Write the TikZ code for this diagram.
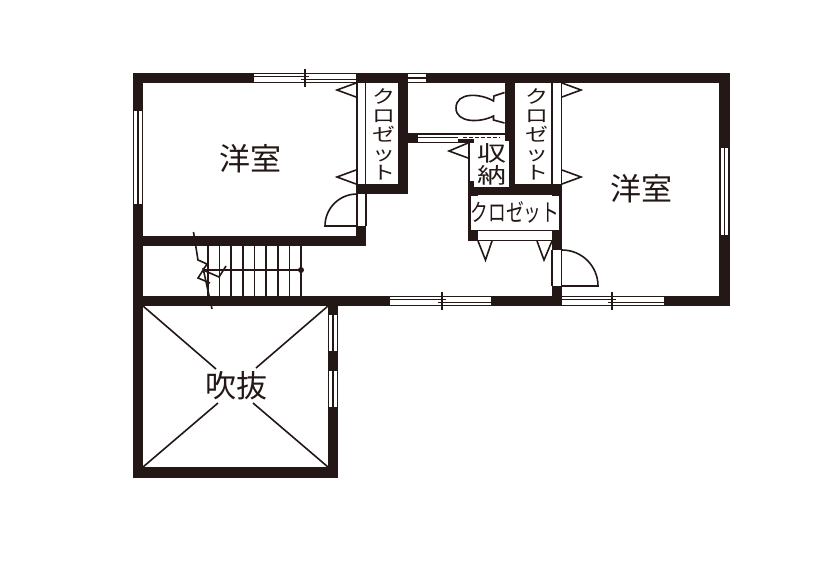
\documentclass[tikz,border=0pt]{standalone}
\usepackage{fontspec}
\usepackage{graphicx}
\newfontfamily\jp{Noto Sans CJK JP}
\definecolor{ink}{HTML}{231815}
\newcommand{\vch}[1]{\scalebox{1}[0.8]{#1}}
\tikzset{
  wall/.style={fill=ink,draw=none},
  hole/.style={fill=white,draw=none},
  thin/.style={draw=ink,line width=1.1pt},
  mid/.style={draw=ink,line width=1.6pt},
  label/.style={text=ink,inner sep=0pt,outer sep=0pt},
  room/.style={label,font=\jp\fontsize{31}{31}\selectfont},
  vstack/.style={label,align=center,font=\jp\fontsize{23}{19}\selectfont},
  store/.style={label,font=\jp\fontsize{29}{29}\selectfont},
}
\begin{document}
\begin{tikzpicture}[x=1pt,y=-1pt]
\useasboundingbox (0,0) rectangle (840,560);
\fill[white] (0,0) rectangle (840,560);
% ---------- walls
\foreach \a/\b/\c/\d in {
  133/73/730/83, 133/73/143/478, 719/73/730/306,
  133/236/366/246, 356/226/366/246, 356/184/408/194,
  398/73/408/194, 408/133/418/143, 505/73/515/195,
  468/184/562/195, 468/195/478/241, 552/195/562/250,
  552/286/562/306, 133/296/730/306, 328/296/338/478,
  133/467/338/478}
  \fill[wall] (\a,\b) rectangle (\c,\d);
% ---------- horizontal windows with a meeting stile
\foreach \a/\c/\y/\t in {254/356/73/305, 390/491/296/442, 562/664/296/612}{
  \fill[hole] (\a,\y+1) rectangle (\c,\y+9);
  \draw[thin] (\a,\y+0.6) -- (\c,\y+0.6) (\a,\y+9.2) -- (\c,\y+9.2);
  \draw[thin] (\a,\y+3.2) -- (\t+4,\y+3.2);
  \draw[thin] (\t-4,\y+6.2) -- (\c,\y+6.2);
  \draw[thin] (\t,\y-4) -- (\t,\y+13.5);
}
% ---------- small top window
\fill[hole] (408,74) rectangle (426,82);
\draw[mid] (408,78) -- (426,78);
\draw[thin] (408,73.6) -- (426,73.6) (408,82.2) -- (426,82.2);
% ---------- vertical windows
\foreach \x/\a/\b in {133/111/204, 719.5/148/235, 328/315/351, 328/371/407}{
  \fill[hole] (\x+1,\a) rectangle (\x+9,\b);
  \draw[mid] (\x+4.8,\a) -- (\x+4.8,\b);
  \draw[thin] (\x+0.6,\a) -- (\x+0.6,\b) (\x+9.4,\a) -- (\x+9.4,\b);
}
% ---------- closet door strips
\draw[mid] (356.7,83) -- (356.7,184);
\draw[thin] (365.3,83) -- (365.3,184);
\draw[thin] (552,83) -- (552,184);
\draw[mid] (561.4,83) -- (561.4,184);
% ---------- closet door leaves
\foreach \a/\t/\b/\tx in {83/90/97/337, 170/177/184/337}
  \draw[mid,line join=miter] (356,\a) -- (\tx,\t) -- (356,\b);
\foreach \a/\t/\b/\tx in {83/90/97/581, 170/177/184/581}
  \draw[mid,line join=miter] (562,\a) -- (\tx,\t) -- (562,\b);
\draw[mid] (468,143) -- (449,151) -- (468,158);
\draw[mid] (478,241) -- (485.5,260) -- (492,241);
\draw[mid] (537,241) -- (544,260) -- (552,241);
\draw[thin] (478,230.5) -- (552,230.5) (478,240.5) -- (552,240.5);
% ---------- room doors
\draw[thin] (357,194) -- (357,226);
\draw[thin] (366,194) -- (366,226);
\draw[mid] (357,194) .. controls (339.3,194) and (325,208.3) .. (325,226) -- (357,226);
\draw[thin] (552,250) -- (552,286);
\draw[mid] (561.5,250) -- (561.5,286);
\draw[mid] (562,250) .. controls (581.9,250) and (598,266.1) .. (598,286) -- (562,286);
% ---------- sliding door of the toilet
\draw[thin] (418,134) -- (505,134);
\draw[thin] (418,137.3) -- (458,137.3);
\draw[thin] (418,142.3) -- (468,142.3);
\draw[mid,dash pattern=on 3.5pt off 2.5pt] (463,137.3) -- (500,137.3);
% ---------- toilet
\draw[mid] (504.5,92.5) -- (494,96) -- (493.5,101)
  .. controls (480,93) and (456,92) .. (456,108)
  .. controls (456,123) and (480,123) .. (493.5,116)
  -- (493.5,120) -- (504.5,123);
% ---------- stairs
\foreach \x in {207.7,219.3,231,242.7,254.3,266,277.7,289.3,301}
  \draw[mid] (\x,246) -- (\x,296);
\draw[thin] (203,270) -- (301,270);
\fill[ink] (301,270) circle (3pt);
\draw[mid] (193.5,232) -- (198,260) -- (207,264) -- (198,278) -- (210,283);
\draw[mid] (203,268) -- (212,309);
\draw[mid] (203,270) -- (219,277) -- (226,266);
% ---------- void cross
\draw[mid] (143,306) -- (216,369);
\draw[mid] (328,306) -- (256,368);
\draw[mid] (143,467) -- (218,403);
\draw[mid] (328,467) -- (253,403);
% ---------- white label boxes
\fill[hole] (470.7,196) rectangle (559,230);
\fill[hole] (470,141) rectangle (509,187);
\fill[wall] (458,139) rectangle (474,142.5);
\draw[mid] (469,141) -- (469,186);
\fill[wall] (468,181) rectangle (474,187);
% ---------- labels
\node[room] (roomA) at (250,158.5) {洋室};
\node[room] (roomB) at (641,188.5) {洋室};
\node[room] (void) at (236.5,386) {吹抜};
\node[vstack] (closetA) at (384,134) {\vch{ク}\\\vch{ロ}\\\vch{ゼ}\\\vch{ッ}\\\vch{ト}};
\node[vstack] (closetB) at (537,134) {\vch{ク}\\\vch{ロ}\\\vch{ゼ}\\\vch{ッ}\\\vch{ト}};
\node[label,font=\jp\fontsize{24}{24}\selectfont] (closetC) at (515,212.5) {\scalebox{0.74}[1]{クロゼット}};
\node[store] (storeA) at (491.8,153.5) {\scalebox{1}[0.74]{収}};
\node[store] (storeB) at (491.8,175.5) {\scalebox{1}[0.74]{納}};
\end{tikzpicture}
\end{document}
